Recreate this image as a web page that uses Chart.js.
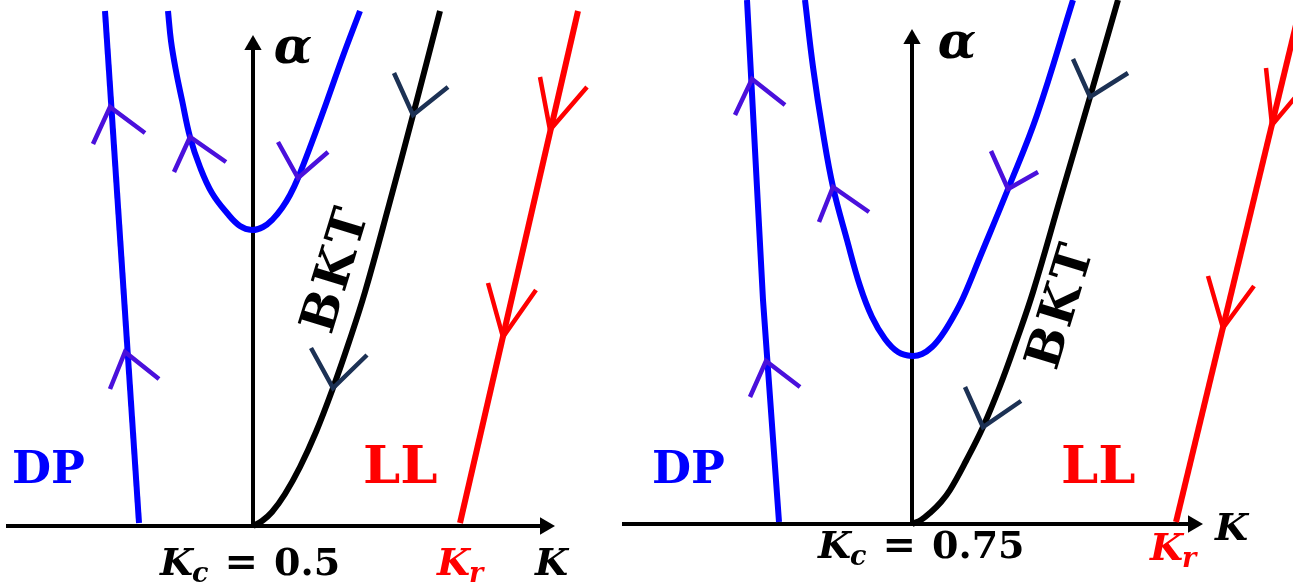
<!DOCTYPE html>
<html>
<head>
<meta charset="utf-8">
<script src="https://cdn.jsdelivr.net/npm/chart.js@4/dist/chart.umd.min.js"></script>
<style>
  html, body { margin: 0; padding: 0; background: #fff; }
  #wrap { position: relative; width: 1308px; height: 588px; overflow: hidden; background: #fff; }
  canvas { position: absolute; top: 0; }
  #flowA { left: 0; }
  #flowB { left: 620px; }
</style>
</head>
<body>
<div id="wrap">
  <canvas id="flowA" width="620" height="588" style="width:620px;height:588px"></canvas>
  <canvas id="flowB" width="673" height="588" style="width:673px;height:588px"></canvas>
</div>
<script>
// ---------------- RG flow, panel A: K_c = 0.5 ----------------
const kcA = 0.5;
const kAxisA = [-1.97, 3.42];        // horizontal axis, arrow centre at the end
const alphaAxisA = [0, 4.81];        // vertical axis at K = K_c
const dpLineA = [[-0.98, 5.15], [-0.64, 0.03]];
const parabolaA = [
  [-0.35, 5.15], [-0.32, 4.85], [-0.27, 4.55], [-0.21, 4.26], [-0.13, 3.89],
  [-0.03, 3.59], [0.09, 3.33], [0.24, 3.13], [0.37, 3.00], [0.49, 2.96],
  [0.60, 2.99], [0.70, 3.07], [0.79, 3.18], [0.87, 3.31], [0.95, 3.48],
  [1.09, 3.84], [1.24, 4.25], [1.40, 4.70], [1.57, 5.15]
];
const bktA = [
  [0.50, 0.00], [0.59, 0.05], [0.69, 0.14], [0.82, 0.32], [0.97, 0.59],
  [1.13, 0.94], [1.30, 1.38], [1.46, 1.84], [1.62, 2.34], [1.86, 3.21],
  [2.10, 4.11], [2.37, 5.15]
];
const llLineA = [[2.57, 0.03], [3.75, 5.15]];
// flow arrows: [arm end, tip, arm end]
const blueArrowsA = [
  [[-1.10, 3.82], [-0.93, 4.19], [-0.58, 3.93]],
  [[-0.93, 1.37], [-0.78, 1.74], [-0.44, 1.47]],
  [[-0.29, 3.54], [-0.13, 3.89], [0.23, 3.64]],
  [[0.75, 3.84], [0.95, 3.48], [1.25, 3.74]]
];
const bktArrowsA = [
  [[1.91, 4.53], [2.10, 4.11], [2.45, 4.39]],
  [[1.08, 1.78], [1.30, 1.38], [1.64, 1.71]]
];
const redArrowsA = [
  [[3.37, 4.49], [3.47, 3.96], [3.84, 4.39]],
  [[2.85, 2.43], [3.00, 1.89], [3.33, 2.36]]
];

// ---------------- RG flow, panel B: K_c = 0.75 ----------------
const kcB = 0.75;
const kAxisB = [-2.15, 3.56];
const alphaAxisB = [0, 4.85];
const dpLineB = [[-0.90, 5.24], [-0.74, 2.24], [-0.58, 0.02]];
const parabolaB = [
  [-0.32, 5.24], [-0.24, 4.57], [-0.14, 3.91], [-0.04, 3.37], [0.10, 2.84],
  [0.23, 2.38], [0.35, 2.07], [0.48, 1.85], [0.61, 1.72], [0.75, 1.68],
  [0.85, 1.70], [0.95, 1.77], [1.05, 1.89], [1.15, 2.05], [1.26, 2.26],
  [1.43, 2.67], [1.71, 3.35], [2.00, 4.09], [2.36, 5.24]
];
const bktB = [
  [0.75, 0.00], [0.84, 0.04], [0.94, 0.12], [1.04, 0.22], [1.13, 0.34],
  [1.29, 0.63], [1.46, 0.97], [1.63, 1.38], [1.79, 1.82], [1.96, 2.32],
  [2.24, 3.28], [2.53, 4.27], [2.81, 5.24]
];
const llLineB = [[3.39, 0.02], [4.65, 5.24]];
const blueArrowsB = [
  [[-1.02, 4.09], [-0.85, 4.45], [-0.52, 4.19]],
  [[-0.87, 1.27], [-0.71, 1.63], [-0.37, 1.37]],
  [[-0.18, 3.02], [-0.04, 3.37], [0.32, 3.12]],
  [[1.54, 3.73], [1.71, 3.35], [2.01, 3.52]]
];
const bktArrowsB = [
  [[2.36, 4.65], [2.53, 4.27], [2.91, 4.51]],
  [[1.28, 1.37], [1.46, 0.97], [1.84, 1.23]]
];
const redArrowsB = [
  [[4.29, 4.56], [4.35, 3.99], [4.71, 4.42]],
  [[3.71, 2.48], [3.86, 1.96], [4.17, 2.38]]
];

// ---------------- styling ----------------
const BLUE = '#0000ff', RED = '#ff0000', BLACK = '#000000';
const BLUE_ARROW = '#4a10dc', BKT_ARROW = '#1c3154';
const SERIF = '"DejaVu Serif", "Liberation Serif", serif';

const toXY = pts => pts.map(([x, y]) => ({ x, y }));

function path(pts, color, width, extra) {
  return Object.assign({
    data: toXY(pts), showLine: true, borderColor: color, backgroundColor: color,
    borderWidth: width, pointRadius: 0, pointHoverRadius: 0, fill: false, tension: 0,
    borderCapStyle: 'butt', borderJoinStyle: 'miter', order: 2
  }, extra || {});
}
function curve(pts, color, width) {
  return path(pts, color, width, { tension: 0.4, borderJoinStyle: 'round', order: 1 });
}
function arrows(list, color) {
  return list.map(a => path(a, color, 4.5, { order: 0 }));
}
function axisHead(x, y, rot) {
  return {
    data: [{ x, y }], showLine: false, pointStyle: 'triangle', pointRadius: 10,
    pointRotation: rot, pointBackgroundColor: BLACK, pointBorderColor: BLACK,
    pointBorderWidth: 0, order: 3
  };
}
function axes(kc, kAxis, aAxis) {
  return [
    path([[kAxis[0], 0], [kAxis[1], 0]], BLACK, 4, { order: 3 }),
    path([[kc, aAxis[0]], [kc, aAxis[1]]], BLACK, 4, { order: 3 }),
    axisHead(kAxis[1], 0, 90),
    axisHead(kc, aAxis[1], 0)
  ];
}

function textLayer(items) {
  return {
    id: 'panelText',
    afterDatasetsDraw(chart) {
      const { ctx } = chart;
      const sx = chart.scales.x, sy = chart.scales.y;
      items.forEach(item => {
        const px = sx.getPixelForValue(item.at[0]);
        const py = sy.getPixelForValue(item.at[1]);
        ctx.save();
        ctx.translate(px, py);
        if (item.rotate) ctx.rotate(item.rotate * Math.PI / 180);
        ctx.fillStyle = item.color || BLACK;
        ctx.textBaseline = item.baseline || 'alphabetic';
        ctx.textAlign = 'left';
        if (item.spacing) ctx.letterSpacing = item.spacing + 'px';
        let total = 0;
        item.parts.forEach(p => { ctx.font = p.font; total += (p.gap || 0) + ctx.measureText(p.t).width; });
        let cx = item.align === 'center' ? -total / 2 : 0;
        item.parts.forEach(p => {
          ctx.font = p.font;
          cx += p.gap || 0;
          ctx.fillText(p.t, cx, p.dy || 0);
          cx += ctx.measureText(p.t).width;
        });
        ctx.restore();
      });
    }
  };
}

const fItal = s => 'italic bold ' + s + 'px ' + SERIF;
const fBold = s => 'bold ' + s + 'px ' + SERIF;

function kcLabel(at, kc) {
  return { at, parts: [
    { t: 'K', font: fItal(38) },
    { t: 'c', font: fItal(27), dy: 7, gap: -1 },
    { t: '=', font: fBold(40), gap: 16 },
    { t: String(kc), font: fBold(38), gap: 16 }
  ] };
}
function panelLabels(kc, pos) {
  return [
    { at: pos.alpha, align: 'center', baseline: 'middle', parts: [{ t: 'α', font: fItal(50) }] },
    { at: pos.dp, color: BLUE, parts: [{ t: 'DP', font: fBold(45) }] },
    { at: pos.ll, color: RED, parts: [{ t: 'LL', font: fBold(53) }] },
    { at: pos.bkt, align: 'center', baseline: 'middle', rotate: -73, spacing: 3, parts: [{ t: 'BKT', font: fBold(49) }] },
    kcLabel(pos.kc, kc),
    { at: pos.kr, color: RED, parts: [{ t: 'K', font: fItal(38) }, { t: 'r', font: fItal(27), dy: 7, gap: -1 }] },
    { at: pos.k, parts: [{ t: 'K', font: fItal(38) }] }
  ];
}

function makeChart(id, set, range) {
  const datasets = [].concat(
    axes(set.kc, set.kAxis, set.alphaAxis),
    [
      path(set.dp, BLUE, 6, { order: 1 }),
      curve(set.parabola, BLUE, 6),
      curve(set.bkt, BLACK, 6),
      path(set.ll, RED, 6, { order: 1 })
    ],
    arrows(set.blueArrows, BLUE_ARROW),
    arrows(set.bktArrows, BKT_ARROW),
    arrows(set.redArrows, RED)
  );
  return new Chart(document.getElementById(id), {
    type: 'scatter',
    data: { datasets },
    options: {
      responsive: false, animation: false, devicePixelRatio: 1,
      layout: { padding: 0, autoPadding: false },
      events: [],
      plugins: { legend: { display: false }, tooltip: { enabled: false } },
      scales: {
        x: { type: 'linear', display: false, min: range.x[0], max: range.x[1] },
        y: { type: 'linear', display: false, min: range.y[0], max: range.y[1] }
      }
    },
    plugins: [textLayer(set.labels)]
  });
}

makeChart('flowA', {
  kc: kcA, kAxis: kAxisA, alphaAxis: alphaAxisA,
  dp: dpLineA, parabola: parabolaA, bkt: bktA, ll: llLineA,
  blueArrows: blueArrowsA, bktArrows: bktArrowsA, redArrows: redArrowsA,
  labels: panelLabels(kcA, {
    alpha: [0.90, 4.76], dp: [-1.91, 0.43], ll: [1.60, 0.43], bkt: [1.35, 2.56],
    kc: [-0.43, -0.49], kr: [2.34, -0.49], k: [3.32, -0.49]
  })
}, { x: [-2.03, 4.17], y: [-0.62, 5.26] });

makeChart('flowB', {
  kc: kcB, kAxis: kAxisB, alphaAxis: alphaAxisB,
  dp: dpLineB, parabola: parabolaB, bkt: bktB, ll: llLineB,
  blueArrows: blueArrowsB, bktArrows: bktArrowsB, redArrows: redArrowsB,
  labels: panelLabels(kcB, {
    alpha: [1.20, 4.79], dp: [-1.85, 0.41], ll: [2.24, 0.41], bkt: [2.26, 2.18],
    kc: [-0.19, -0.34], kr: [3.13, -0.36], k: [3.78, -0.16]
  })
}, { x: [-2.17, 4.56], y: [-0.64, 5.24] });
</script>
</body>
</html>
